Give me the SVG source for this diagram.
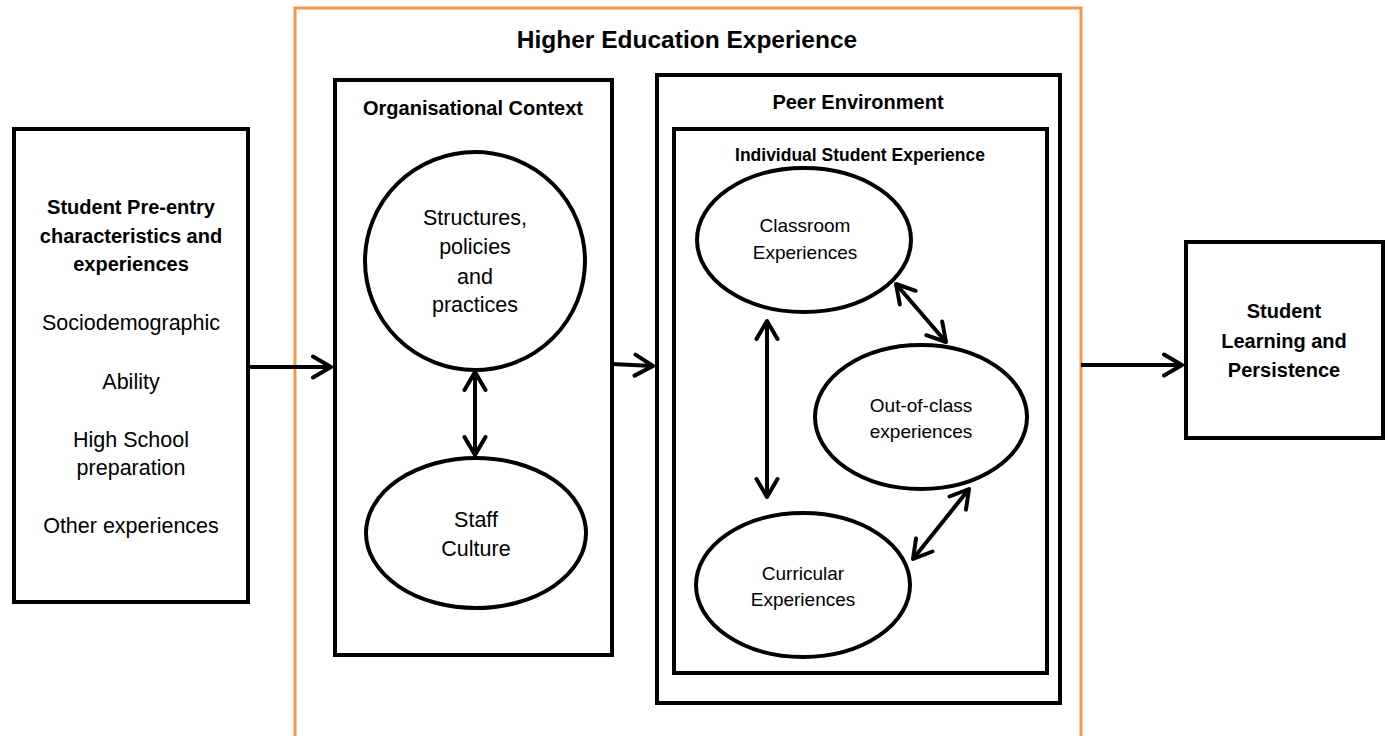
<svg xmlns="http://www.w3.org/2000/svg" width="1389" height="736" viewBox="0 0 1389 736">
<style>
.box{fill:#fff;stroke:#000;stroke-width:4}
.ell{fill:#fff;stroke:#000;stroke-width:4}
.outer{fill:none;stroke:#F79646;stroke-width:3}
.t{font-family:"Liberation Sans",Arial,sans-serif;fill:#000;text-anchor:middle}
.b{font-weight:bold}
.con{stroke:#000;stroke-width:4;fill:none}
</style>
<defs>
<marker id="ah" markerUnits="userSpaceOnUse" markerWidth="26" markerHeight="28" refX="21" refY="13" orient="auto-start-reverse">
<path d="M3,2.5 L21,13 L3,23.5" fill="none" stroke="#000" stroke-width="4" stroke-linecap="round" stroke-linejoin="round"/>
</marker>
</defs>
<rect width="1389" height="736" fill="#fff"/>
<g id="higher-education">
<rect class="outer" x="295" y="8" width="786" height="745"/>
<text class="t b" x="687" y="48" font-size="24.5">Higher Education Experience</text>
</g>
<g id="pre-entry">
<rect class="box" x="14" y="129" width="234" height="473"/>
<text class="t b" x="131" y="214" font-size="20">Student Pre-entry</text>
<text class="t b" x="131" y="243" font-size="20">characteristics and</text>
<text class="t b" x="131" y="271" font-size="20">experiences</text>
<text class="t" x="131" y="330" font-size="21.5">Sociodemographic</text>
<text class="t" x="131" y="389" font-size="21.5">Ability</text>
<text class="t" x="131" y="447" font-size="21.5">High School</text>
<text class="t" x="131" y="475" font-size="21.5">preparation</text>
<text class="t" x="131" y="533" font-size="21.5">Other experiences</text>
</g>
<g id="organisational-context">
<rect class="box" x="335" y="80" width="277" height="575"/>
<text class="t b" x="473" y="115" font-size="20">Organisational Context</text>
</g>
<g id="structures">
<ellipse class="ell" cx="475" cy="261" rx="110" ry="109"/>
<text class="t" x="475" y="225" font-size="21.5">Structures,</text>
<text class="t" x="475" y="254" font-size="21.5">policies</text>
<text class="t" x="475" y="284" font-size="21.5">and</text>
<text class="t" x="475" y="312" font-size="21.5">practices</text>
</g>
<g id="staff-culture">
<ellipse class="ell" cx="476" cy="533" rx="110" ry="75"/>
<text class="t" x="476" y="527" font-size="21.5">Staff</text>
<text class="t" x="476" y="556" font-size="21.5">Culture</text>
</g>
<g id="peer-environment">
<rect class="box" x="657" y="75" width="403" height="628"/>
<text class="t b" x="858" y="109" font-size="20">Peer Environment</text>
</g>
<g id="individual-experience">
<rect class="box" x="674" y="129" width="373" height="544"/>
<text class="t b" x="860" y="161" font-size="17.5">Individual Student Experience</text>
</g>
<g id="classroom">
<ellipse class="ell" cx="804" cy="240" rx="107" ry="72"/>
<text class="t" x="805" y="232" font-size="19">Classroom</text>
<text class="t" x="805" y="259" font-size="19">Experiences</text>
</g>
<g id="out-of-class">
<ellipse class="ell" cx="921" cy="417" rx="106" ry="72"/>
<text class="t" x="921" y="412" font-size="19">Out-of-class</text>
<text class="t" x="921" y="438" font-size="19">experiences</text>
</g>
<g id="curricular">
<ellipse class="ell" cx="803" cy="585" rx="107" ry="72"/>
<text class="t" x="803" y="580" font-size="19">Curricular</text>
<text class="t" x="803" y="606" font-size="19">Experiences</text>
</g>
<g id="student-learning">
<rect class="box" x="1186" y="242" width="197" height="196"/>
<text class="t b" x="1284" y="318" font-size="20">Student</text>
<text class="t b" x="1284" y="348" font-size="20">Learning and</text>
<text class="t b" x="1284" y="377" font-size="20">Persistence</text>
</g>
<g id="connectors">
<line class="con" x1="248" y1="367" x2="331" y2="367" marker-end="url(#ah)"/>
<line class="con" x1="612" y1="364" x2="653" y2="366" marker-end="url(#ah)"/>
<line class="con" x1="1081" y1="365" x2="1182" y2="365" marker-end="url(#ah)"/>
<line class="con" x1="475" y1="372" x2="475" y2="455" marker-start="url(#ah)" marker-end="url(#ah)"/>
<line class="con" x1="767" y1="321" x2="767" y2="497" marker-start="url(#ah)" marker-end="url(#ah)"/>
<line class="con" x1="896" y1="284" x2="946" y2="342" marker-start="url(#ah)" marker-end="url(#ah)"/>
<line class="con" x1="969" y1="489" x2="913" y2="559" marker-start="url(#ah)" marker-end="url(#ah)"/>
</g>
</svg>
